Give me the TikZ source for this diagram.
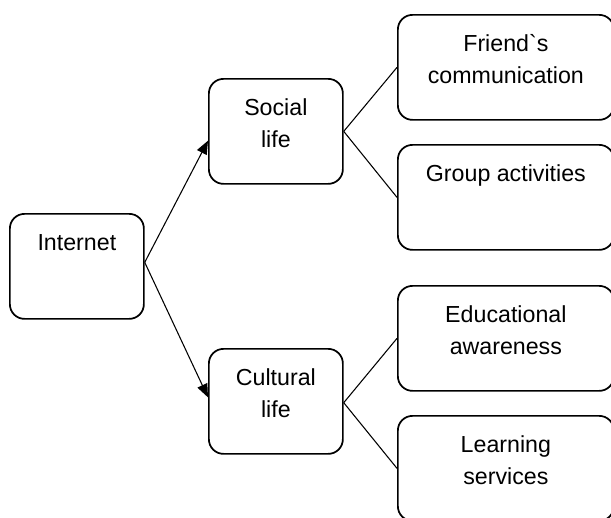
\documentclass[tikz,border=0pt]{standalone}
\usepackage{fontspec}
\setmainfont{Liberation Sans}
\usetikzlibrary{arrows.meta}

\begin{document}
\begin{tikzpicture}[x=0.75pt,y=-0.75pt,
  line width=1.3pt,
  base node/.style={draw,rounded corners=11pt,anchor=north west,align=center,
    inner xsep=0pt,inner ysep=0pt,text height=27.75pt,text depth=51pt,
    font=\fontsize{17.4pt}{24pt}\selectfont},
  two lines/.style={text height=51.75pt,text depth=27pt},
  topic node/.style={base node,minimum width=100.5pt},
  item node/.style={base node,minimum width=162pt},
  link/.style={line width=0.8pt}]

  \useasboundingbox (0,0) rectangle (611,518);

  \node[topic node] (net) at (9,213) {Internet};
  \node[topic node,two lines] (soc) at (208,78) {Social\\life};
  \node[topic node,two lines] (cul) at (208,348) {Cultural\\life};
  \node[item node,two lines] (fri) at (397,14) {Friend\textasciigrave s\\communication};
  \node[item node] (grp) at (397,144) {Group activities};
  \node[item node,two lines] (edu) at (397,285) {Educational\\awareness};
  \node[item node,two lines] (lrn) at (397,415) {Learning\\services};

\begin{scope}[link]
  \draw[-{Triangle[length=10pt,width=8pt]}] ([yshift=3pt]net.east) to ([yshift=-7pt]soc.west);
  \draw[-{Triangle[length=10pt,width=8pt]}] ([yshift=3pt]net.east) to ([yshift=3pt]cul.west);
  \draw (soc.east) to (fri.west);
  \draw (soc.east) to (grp.west);
  \draw ([yshift=-1pt]cul.east) to (edu.west);
  \draw ([yshift=-1pt]cul.east) to (lrn.west);
\end{scope}
\end{tikzpicture}
\end{document}
